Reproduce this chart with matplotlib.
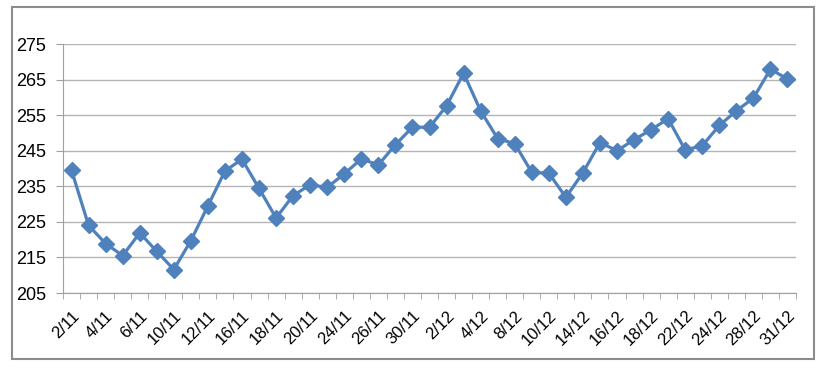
import numpy as np
import matplotlib.pyplot as plt
from matplotlib.patches import Rectangle

# valores (43 sesiones, etiqueta cada dos)
valores = [239.5, 224.0, 218.9, 215.5, 221.9, 216.7, 211.6, 219.7, 229.5, 239.3,
           242.6, 234.4, 226.1, 232.4, 235.4, 234.7, 238.5, 242.7, 241.0, 246.7,
           251.6, 251.6, 257.6, 266.8, 256.2, 248.4, 247.0, 238.9, 238.7, 231.9,
           238.8, 247.3, 245.0, 248.1, 250.9, 254.0, 245.2, 246.4, 252.1, 256.2,
           259.8, 267.9, 265.2]
etiquetas = ['2/11', '4/11', '6/11', '10/11', '12/11', '16/11', '18/11', '20/11',
             '24/11', '26/11', '30/11', '2/12', '4/12', '8/12', '10/12', '14/12',
             '16/12', '18/12', '22/12', '24/12', '28/12', '31/12']
y_ticks = [205, 215, 225, 235, 245, 255, 265, 275]

plt.rcParams['font.family'] = ['Liberation Sans', 'DejaVu Sans']

fig = plt.figure(figsize=(8.27, 3.68), dpi=100)
fig.patches.append(Rectangle((12 / 827, 1 - 359 / 368), 802 / 827, 352 / 368,
                             transform=fig.transFigure, fill=False,
                             edgecolor='#8c8c8c', linewidth=1.5))

ax = fig.add_axes([0.0762, 0.2038, 0.8863, 0.6766])
x = np.arange(len(valores))
ax.plot(x, valores, color='#4F81BD', linewidth=2.3, marker='D', markersize=8.5,
        markeredgecolor='#4F81BD', zorder=3)

ax.set_xlim(-0.5, len(valores) - 0.5)
ax.set_ylim(205, 275)
ax.set_yticks(y_ticks)
ax.grid(axis='y', color='#b4b4b4', linewidth=1)
ax.set_axisbelow(True)

ax.set_xticks(x[::2])
ax.set_xticklabels(etiquetas, rotation=45, ha='right', rotation_mode='anchor',
                   fontsize=12)
ax.set_xticks(np.arange(-0.5, len(valores)), minor=True)
ax.tick_params(axis='x', which='major', length=0, pad=11)
ax.tick_params(axis='x', which='minor', length=4, color='#a0a0a0')
ax.tick_params(axis='y', length=5, color='#a0a0a0', labelsize=13, pad=7)

for lado in ['top', 'right']:
    ax.spines[lado].set_visible(False)
for lado in ['left', 'bottom']:
    ax.spines[lado].set_color('#a0a0a0')

fig.savefig('out.png')
